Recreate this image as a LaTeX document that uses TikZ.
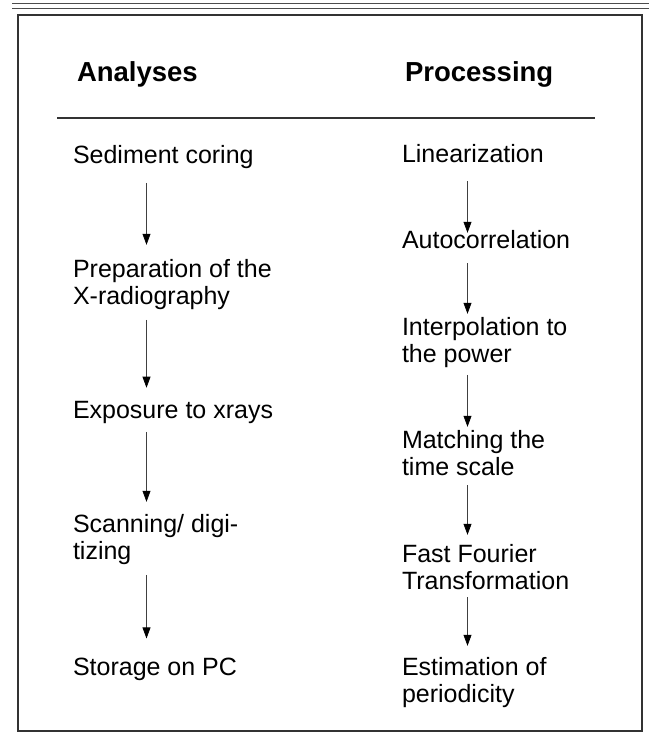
\documentclass[tikz,border=0pt]{standalone}
\usepackage{fontspec}
\setmainfont{Liberation Sans}
\usetikzlibrary{arrows.meta}
\tikzset{
  stepnode/.style={anchor=base west, inner sep=0pt, outer sep=0pt, align=left,
    font=\fontsize{25}{27}\selectfont, text=black},
  headnode/.style={anchor=base west, inner sep=0pt, outer sep=0pt,
    font=\fontsize{27.5}{30}\selectfont\bfseries, text=black},
  arr/.style={draw=black!75, line width=0.75pt,
    -{Triangle[length=11pt,width=8pt,color=black]}},
  frameline/.style={draw=black!80, line width=1.2pt},
}
\begin{document}
\begin{tikzpicture}[x=1pt,y=-1pt]
\useasboundingbox (0,0) rectangle (649,745);
% top double rule and frame
\draw[frameline, draw=black!70] (12,3.5) -- (649,3.5);
\draw[frameline, draw=black!70] (12,8.5) -- (649,8.5);
\draw[frameline] (18,15) rectangle (642,731);
% headers
\node[headnode] (hA) at (77,81) {Analyses};
\node[headnode] (hP) at (405,81) {Processing};
\coordinate (ruleL) at (57,118);
\coordinate (ruleR) at (595,118);
\draw[frameline, line width=1.3pt] (ruleL) -- (ruleR);
% column x for arrows
\coordinate (lx) at (146.5,0);
\coordinate (rx) at (467.5,0);
% left column (base anchor = baseline of last line)
\node[stepnode] (s1) at (73,163) {Sediment coring};
\node[stepnode] (s2) at (73,304) {Preparation of the\\X-radiography};
\node[stepnode] (s3) at (73,418) {Exposure to xrays};
\node[stepnode] (s4) at (73,559) {Scanning/ digi-\\tizing};
\node[stepnode] (s5) at (73,675) {Storage on PC};
% right column
\node[stepnode] (r1) at (402,162) {Linearization};
\node[stepnode] (r2) at (402,248) {Autocorrelation};
\node[stepnode] (r3) at (402,362) {Interpolation to\\the power};
\node[stepnode] (r4) at (402,475) {Matching the\\time scale};
\node[stepnode] (r5) at (402,589) {Fast Fourier\\Transformation};
\node[stepnode] (r6) at (402,702) {Estimation of\\periodicity};
% left arrows
\draw[arr, shorten <=14.7pt, shorten >=14.1pt] (lx |- s1.south) -- (lx |- s2.north);
\draw[arr, shorten <=10.7pt, shorten >=13.1pt] (lx |- s2.south) -- (lx |- s3.north);
\draw[arr, shorten <=8.7pt, shorten >=12.1pt] (lx |- s3.south) -- (lx |- s4.north);
\draw[arr, shorten <=10.7pt, shorten >=19.1pt] (lx |- s4.south) -- (lx |- s5.north);
% right arrows
\draw[arr, shorten <=19pt, shorten >=-2.9pt] (rx |- r1.south) -- (rx |- r2.north);
\draw[arr, shorten <=15pt, shorten >=3.1pt] (rx |- r2.south) -- (rx |- r3.north);
\draw[arr, shorten <=7.7pt, shorten >=3.1pt] (rx |- r3.south) -- (rx |- r4.north);
\draw[arr, shorten <=10pt, shorten >=9.1pt] (rx |- r4.south) -- (rx |- r5.north);
\draw[arr, shorten <=8pt, shorten >=11.1pt] (rx |- r5.south) -- (rx |- r6.north);
\end{tikzpicture}
\end{document}
